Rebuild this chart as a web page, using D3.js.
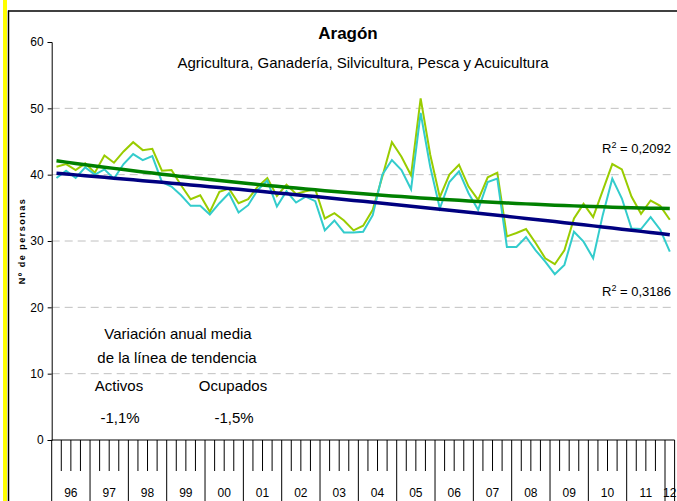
<!DOCTYPE html>
<html>
<head>
<meta charset="utf-8">
<script src="https://cdn.jsdelivr.net/npm/d3@7"></script>
<style>
  body { margin: 0; background: #fff; }
  text { font-family: "Liberation Sans", Arial, sans-serif; }
</style>
</head>
<body>
<div id="chart"></div>
<script>
// Years on the category axis (quarterly data, 1996 Q1 .. 2012 Q1)
const years = ['96','97','98','99','00','01','02','03','04','05','06','07','08','09','10','11','12'];
const quarters = [];
years.forEach(y => [1, 2, 3, 4].forEach(q => { if (y !== '12' || q === 1) quarters.push(y + '-' + q); }));

// Activos (thousands of people)
const activos = [
  41.2, 41.6, 40.7, 41.7,
  40.3, 42.9, 41.8, 43.5,
  44.9, 43.7, 43.9, 40.6,
  40.7, 38.4, 36.3, 36.9,
  34.4, 37.4, 37.9, 35.7,
  36.3, 38.2, 39.5, 36.8,
  38.5, 37.1, 37.5, 37.8,
  33.4, 34.2, 33.1, 31.6,
  32.3, 34.7, 39.7, 44.9,
  42.7, 39.9, 51.5, 43.0,
  36.6, 40.0, 41.5, 38.2,
  36.2, 39.6, 40.3, 30.7,
  31.2, 31.8, 29.7, 27.4,
  26.5, 28.6, 33.4, 35.6,
  33.6, 37.6, 41.6, 40.8,
  36.7, 34.1, 36.1, 35.3,
  33.2
];

// Ocupados (thousands of people)
const ocupados = [
  39.5, 40.6, 39.5, 41.1,
  40.0, 40.8, 39.4, 41.6,
  43.1, 42.2, 42.8, 38.9,
  38.2, 36.9, 35.3, 35.3,
  34.0, 35.7, 37.2, 34.3,
  35.4, 37.7, 39.1, 35.2,
  37.5, 35.8, 36.7, 36.0,
  31.6, 33.1, 31.3, 31.3,
  31.4, 33.9, 40.0, 42.2,
  40.7, 37.8, 49.3, 41.2,
  34.9, 38.9, 40.5, 37.2,
  34.7, 38.9, 39.4, 29.1,
  29.1, 30.6, 28.6, 26.9,
  25.0, 26.4, 31.4, 29.9,
  27.4, 33.9, 39.4, 36.4,
  31.9, 31.8, 33.6, 31.7,
  28.4
];

const yTicks = [0, 10, 20, 30, 40, 50, 60];
const gridTicks = [10, 20, 30, 40, 50];

// Second order polynomial trend (least squares on x = 1..n)
function quadFit(ys) {
  const s = [0, 0, 0, 0, 0], t = [0, 0, 0];
  ys.forEach((y, i) => {
    const x = i + 1;
    for (let k = 0; k < 5; k++) s[k] += Math.pow(x, k);
    for (let k = 0; k < 3; k++) t[k] += Math.pow(x, k) * y;
  });
  const m = [[s[0], s[1], s[2], t[0]], [s[1], s[2], s[3], t[1]], [s[2], s[3], s[4], t[2]]];
  for (let c = 0; c < 3; c++) {
    for (let r = c + 1; r < 3; r++) {
      const f = m[r][c] / m[c][c];
      for (let k = c; k < 4; k++) m[r][k] -= f * m[c][k];
    }
  }
  const b = [0, 0, 0];
  for (let r = 2; r >= 0; r--) {
    let v = m[r][3];
    for (let k = r + 1; k < 3; k++) v -= m[r][k] * b[k];
    b[r] = v / m[r][r];
  }
  return ys.map((_, i) => b[0] + b[1] * (i + 1) + b[2] * (i + 1) * (i + 1));
}

const W = 677, H = 501;
const svg = d3.select('#chart').append('svg')
  .attr('width', W)
  .attr('height', H);

// Frame: yellow strip and black chart border
svg.append('rect').attr('x', 3).attr('y', 0).attr('width', 4).attr('height', H).attr('fill', '#ffff00');
svg.append('line').attr('x1', 8.5).attr('x2', 8.5).attr('y1', 10.5).attr('y2', H)
  .attr('stroke', '#000').attr('stroke-width', 1.5);
svg.append('line').attr('x1', 8).attr('x2', W).attr('y1', 11).attr('y2', 11)
  .attr('stroke', '#000').attr('stroke-width', 1.5);

const plotLeft = 51.7, step = 9.583;
const x = d3.scaleBand()
  .domain(quarters)
  .range([plotLeft, plotLeft + quarters.length * step]);
const y = d3.scaleLinear().domain([0, 60]).range([440, 42]);

// Gridlines
svg.append('g').selectAll('line')
  .data(gridTicks)
  .enter().append('line')
  .attr('x1', plotLeft).attr('x2', x.range()[1])
  .attr('y1', d => y(d)).attr('y2', d => y(d))
  .attr('stroke', '#c0c0c0')
  .attr('stroke-dasharray', '8,5');

// Y axis
const yAxis = svg.append('g')
  .attr('transform', `translate(${plotLeft},0)`)
  .call(d3.axisLeft(y).tickValues(yTicks).tickSize(4).tickPadding(4));
yAxis.select('.domain').attr('stroke', '#000');
yAxis.selectAll('text').style('font-size', '12px').attr('fill', '#000');

svg.append('text')
  .attr('transform', `translate(25,${(y(0) + y(60)) / 2}) rotate(-90)`)
  .attr('text-anchor', 'middle')
  .style('font-size', '9px')
  .style('font-weight', 'bold')
  .style('letter-spacing', '1.5px')
  .text('Nº de personas');

// X axis: quarter ticks, year separators and year labels
svg.append('line')
  .attr('x1', plotLeft).attr('x2', x.range()[1])
  .attr('y1', y(0)).attr('y2', y(0))
  .attr('stroke', '#000');

svg.append('g').selectAll('line')
  .data(quarters)
  .enter().append('line')
  .attr('x1', d => x(d)).attr('x2', d => x(d))
  .attr('y1', y(0))
  .attr('y2', d => d.endsWith('-1') ? H : 471)
  .attr('stroke', '#000');
svg.append('line')
  .attr('x1', x.range()[1]).attr('x2', x.range()[1])
  .attr('y1', y(0)).attr('y2', H)
  .attr('stroke', '#000');

svg.append('g').selectAll('text')
  .data(years)
  .enter().append('text')
  .attr('x', d => {
    const qs = quarters.filter(q => q.startsWith(d + '-'));
    return (x(qs[0]) + x(qs[qs.length - 1]) + x.bandwidth()) / 2;
  })
  .attr('y', 497)
  .attr('text-anchor', 'middle')
  .style('font-size', '12px')
  .text(d => d);

// Series
const line = d3.line()
  .x((d, i) => x(quarters[i]) + x.bandwidth() / 2)
  .y(d => y(d));

svg.append('path').datum(activos)
  .attr('d', line).attr('fill', 'none')
  .attr('stroke', '#99cc00').attr('stroke-width', 2);
svg.append('path').datum(ocupados)
  .attr('d', line).attr('fill', 'none')
  .attr('stroke', '#33cccc').attr('stroke-width', 2);

// Trend lines
svg.append('path').datum(quadFit(activos))
  .attr('d', line).attr('fill', 'none')
  .attr('stroke', '#008000').attr('stroke-width', 3.5);
svg.append('path').datum(quadFit(ocupados))
  .attr('d', line).attr('fill', 'none')
  .attr('stroke', '#000080').attr('stroke-width', 3.5);

// R² labels
[{ v: '0,2092', yy: 153 }, { v: '0,3186', yy: 296 }].forEach(r => {
  const t = svg.append('text')
    .attr('x', 602).attr('y', r.yy)
    .style('font-size', '13px');
  t.append('tspan').text('R');
  t.append('tspan').attr('dy', -5).style('font-size', '9px').text('2');
  t.append('tspan').attr('dy', 5).text(' = ' + r.v);
});

// Titles
svg.append('text')
  .attr('x', 348).attr('y', 39)
  .attr('text-anchor', 'middle')
  .style('font-size', '17px')
  .style('font-weight', 'bold')
  .text('Aragón');
svg.append('text')
  .attr('x', 363).attr('y', 68)
  .attr('text-anchor', 'middle')
  .style('font-size', '15px')
  .text('Agricultura, Ganadería, Silvicultura, Pesca y Acuicultura');

// Annual variation note
const notes = [
  { t: 'Variación anual media', x: 178, y: 339 },
  { t: 'de la línea de tendencia', x: 177, y: 363 },
  { t: 'Activos', x: 119, y: 391 },
  { t: 'Ocupados', x: 233, y: 391 },
  { t: '-1,1%', x: 120, y: 423 },
  { t: '-1,5%', x: 234, y: 423 }
];
notes.forEach(n => {
  svg.append('text')
    .attr('x', n.x).attr('y', n.y)
    .attr('text-anchor', 'middle')
    .style('font-size', '15px')
    .text(n.t);
});
</script>
</body>
</html>
